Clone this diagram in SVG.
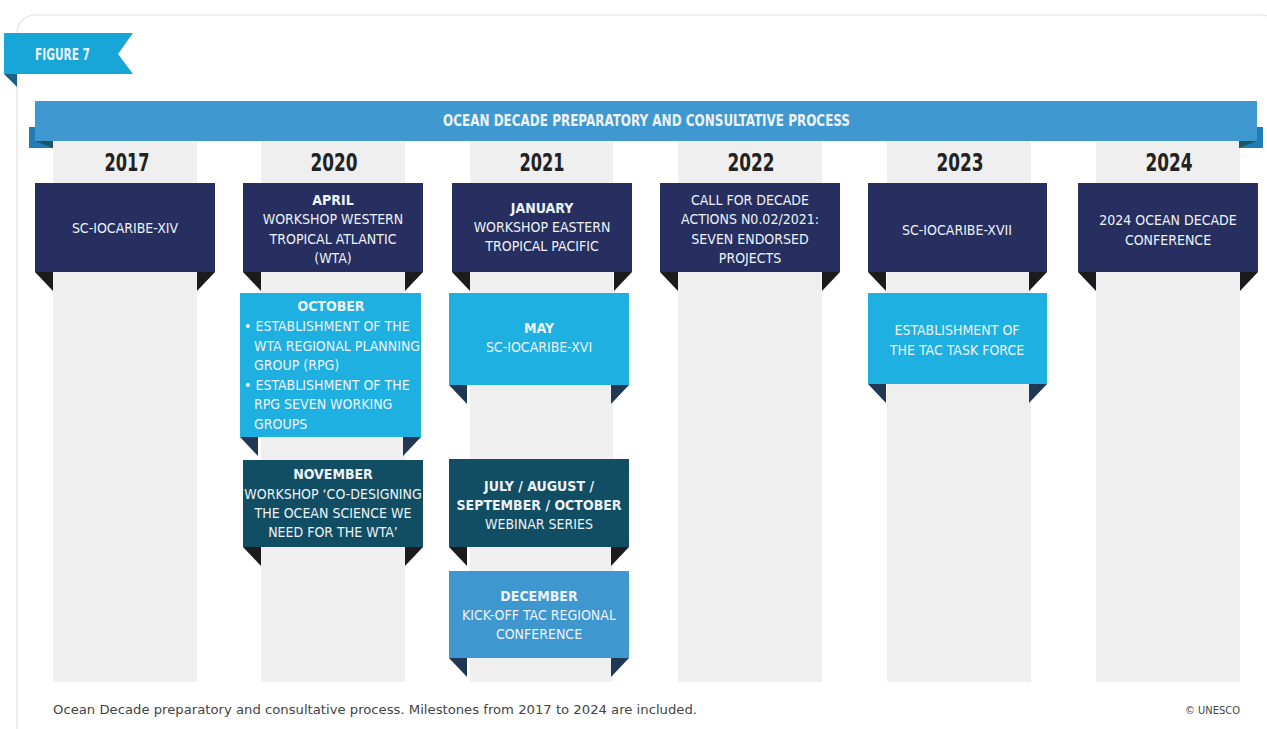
<svg xmlns="http://www.w3.org/2000/svg" width="1267" height="729" viewBox="0 0 1267 729">
<style>
.t{font-family:"DejaVu Sans Condensed","DejaVu Sans",sans-serif;font-size:14px;fill:#eef3f8;text-anchor:middle}
.b{font-weight:bold}
.l{text-anchor:start}
.yr{font-family:"DejaVu Sans Condensed","DejaVu Sans",sans-serif;font-size:25px;font-weight:bold;fill:#222;text-anchor:middle}
.col{fill:#efefef}
.navy{fill:#262f5f}
.cyan{fill:#1db0e0}
.teal{fill:#114e63}
.mid{fill:#3e97cf}
.fk{fill:#1b1b1d}
.fn{fill:#213855}
.cap{font-family:"DejaVu Sans Condensed","DejaVu Sans",sans-serif;font-size:13px;fill:#444}
</style>
<rect x="17" y="15" width="1262" height="730" rx="18" fill="#fff" stroke="#e2e2e2" stroke-width="1.2"/>
<g id="figure-tab">
<polygon points="4,74 17,74 17,87" fill="#1b5f8c"/>
<polygon points="4,33 133,33 118,54 133,74 4,74" fill="#17a6d7"/>
<text x="35" y="60" class="t b l" style="font-size:16px" textLength="55" lengthAdjust="spacingAndGlyphs">FIGURE 7</text>
</g>
<g id="columns">
<rect class="col" x="53" y="140" width="144" height="542"/>
<rect class="col" x="261" y="140" width="144" height="542"/>
<rect class="col" x="470" y="140" width="143" height="542"/>
<rect class="col" x="678" y="140" width="144" height="542"/>
<rect class="col" x="887" y="140" width="144" height="542"/>
<rect class="col" x="1096" y="140" width="144" height="542"/>
</g>
<g id="header">
<rect x="29" y="127" width="24" height="21" fill="#1e7db6"/>
<polygon points="35,141 53,141 53,148" fill="#1a5668"/>
<rect x="1239" y="127" width="24" height="21" fill="#1e7db6"/>
<polygon points="1257,141 1239,141 1239,148" fill="#1a5668"/>
<rect x="35" y="101" width="1222" height="40" fill="#3f98cf"/>
<text x="443" y="126" class="t b l" style="font-size:16px" textLength="407" lengthAdjust="spacingAndGlyphs">OCEAN DECADE PREPARATORY AND CONSULTATIVE PROCESS</text>
</g>
<g id="years">
<text class="yr" x="127" y="171" textLength="45" lengthAdjust="spacingAndGlyphs">2017</text>
<text class="yr" x="334" y="171" textLength="47" lengthAdjust="spacingAndGlyphs">2020</text>
<text class="yr" x="542" y="171" textLength="45" lengthAdjust="spacingAndGlyphs">2021</text>
<text class="yr" x="751" y="171" textLength="47" lengthAdjust="spacingAndGlyphs">2022</text>
<text class="yr" x="960" y="171" textLength="47" lengthAdjust="spacingAndGlyphs">2023</text>
<text class="yr" x="1169" y="171" textLength="47" lengthAdjust="spacingAndGlyphs">2024</text>
</g>
<g id="n2017">
<polygon class="fk" points="35,272 53,272 53,291"/><polygon class="fk" points="215,272 197,272 197,291"/>
<rect class="navy" x="35" y="183" width="180" height="89"/>
<text class="t" x="125" y="233">SC-IOCARIBE-XIV</text>
</g>
<g id="n2020-april">
<polygon class="fk" points="243,272 261,272 261,291"/><polygon class="fk" points="423,272 405,272 405,291"/>
<rect class="navy" x="243" y="183" width="180" height="89"/>
<text class="t b" x="333" y="205">APRIL</text>
<text class="t" x="333" y="224">WORKSHOP WESTERN</text>
<text class="t" x="333" y="244">TROPICAL ATLANTIC</text>
<text class="t" x="333" y="263">(WTA)</text>
</g>
<g id="n2020-october">
<polygon class="fn" points="240,437 258,437 258,456"/><polygon class="fn" points="421,437 403,437 403,456"/>
<rect class="cyan" x="240" y="293" width="181" height="144"/>
<text class="t b" x="331" y="311">OCTOBER</text>
<text class="t l" x="244" y="331">• ESTABLISHMENT OF THE</text>
<text class="t l" x="254" y="351">WTA REGIONAL PLANNING</text>
<text class="t l" x="254" y="370">GROUP (RPG)</text>
<text class="t l" x="244" y="390">• ESTABLISHMENT OF THE</text>
<text class="t l" x="254" y="409">RPG SEVEN WORKING</text>
<text class="t l" x="254" y="429">GROUPS</text>
</g>
<g id="n2020-november">
<polygon class="fk" points="243,547 261,547 261,566"/><polygon class="fk" points="423,547 405,547 405,566"/>
<rect class="teal" x="243" y="460" width="180" height="87"/>
<text class="t b" x="333" y="479">NOVEMBER</text>
<text class="t" x="333" y="499">WORKSHOP ‘CO-DESIGNING</text>
<text class="t" x="333" y="518">THE OCEAN SCIENCE WE</text>
<text class="t" x="333" y="537">NEED FOR THE WTA’</text>
</g>
<g id="n2021-january">
<polygon class="fk" points="452,272 470,272 470,291"/><polygon class="fk" points="632,272 614,272 614,291"/>
<rect class="navy" x="452" y="183" width="180" height="89"/>
<text class="t b" x="542" y="213">JANUARY</text>
<text class="t" x="542" y="232">WORKSHOP EASTERN</text>
<text class="t" x="542" y="251">TROPICAL PACIFIC</text>
</g>
<g id="n2021-may">
<polygon class="fn" points="449,385 467,385 467,404"/><polygon class="fn" points="629,385 611,385 611,404"/>
<rect class="cyan" x="449" y="293" width="180" height="92"/>
<text class="t b" x="539" y="333">MAY</text>
<text class="t" x="539" y="352">SC-IOCARIBE-XVI</text>
</g>
<g id="n2021-july">
<polygon class="fk" points="449,547 467,547 467,566"/><polygon class="fk" points="629,547 611,547 611,566"/>
<rect class="teal" x="449" y="459" width="180" height="88"/>
<text class="t b" x="539" y="491">JULY / AUGUST /</text>
<text class="t b" x="539" y="510">SEPTEMBER / OCTOBER</text>
<text class="t" x="539" y="529">WEBINAR SERIES</text>
</g>
<g id="n2021-december">
<polygon class="fn" points="449,658 467,658 467,677"/><polygon class="fn" points="629,658 611,658 611,677"/>
<rect class="mid" x="449" y="571" width="180" height="87"/>
<text class="t b" x="539" y="601">DECEMBER</text>
<text class="t" x="539" y="620">KICK-OFF TAC REGIONAL</text>
<text class="t" x="539" y="639">CONFERENCE</text>
</g>
<g id="n2022">
<polygon class="fk" points="660,272 678,272 678,291"/><polygon class="fk" points="840,272 822,272 822,291"/>
<rect class="navy" x="660" y="183" width="180" height="89"/>
<text class="t" x="750" y="205">CALL FOR DECADE</text>
<text class="t" x="750" y="224">ACTIONS N0.02/2021:</text>
<text class="t" x="750" y="244">SEVEN ENDORSED</text>
<text class="t" x="750" y="263">PROJECTS</text>
</g>
<g id="n2023">
<polygon class="fk" points="868,272 886,272 886,291"/><polygon class="fk" points="1047,272 1029,272 1029,291"/>
<rect class="navy" x="868" y="183" width="179" height="89"/>
<text class="t" x="957" y="235">SC-IOCARIBE-XVII</text>
</g>
<g id="n2023-taskforce">
<polygon class="fn" points="868,384 886,384 886,403"/><polygon class="fn" points="1047,384 1029,384 1029,403"/>
<rect class="cyan" x="868" y="293" width="179" height="91"/>
<text class="t" x="957" y="335">ESTABLISHMENT OF</text>
<text class="t" x="957" y="355">THE TAC TASK FORCE</text>
</g>
<g id="n2024">
<polygon class="fk" points="1078,272 1096,272 1096,291"/><polygon class="fk" points="1258,272 1240,272 1240,291"/>
<rect class="navy" x="1078" y="183" width="180" height="89"/>
<text class="t" x="1168" y="225">2024 OCEAN DECADE</text>
<text class="t" x="1168" y="245">CONFERENCE</text>
</g>
<g id="caption">
<text class="cap" x="53" y="714" textLength="644" lengthAdjust="spacingAndGlyphs">Ocean Decade preparatory and consultative process. Milestones from 2017 to 2024 are included.</text>
<text class="cap" x="1240" y="714" text-anchor="end" style="font-size:11px">© UNESCO</text>
</g>
</svg>
